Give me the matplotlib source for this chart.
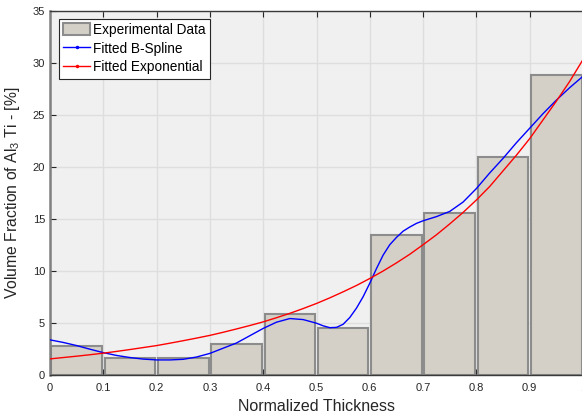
import matplotlib
matplotlib.use("Agg")
import matplotlib.pyplot as plt
from matplotlib.lines import Line2D
from matplotlib.patches import Patch

# ---- data ----
bar_centers = [0.05, 0.15, 0.25, 0.35, 0.45, 0.55, 0.65, 0.75, 0.85, 0.95]
bar_values = [2.75, 1.6, 1.6, 3.0, 5.8, 4.5, 13.45, 15.55, 20.9, 28.8]

spline_x = [0.0, 0.025, 0.05, 0.075, 0.1, 0.125, 0.15, 0.175, 0.2, 0.225,
            0.25, 0.275, 0.3, 0.325, 0.35, 0.375, 0.4, 0.425, 0.45, 0.475,
            0.5, 0.5125, 0.525, 0.5375, 0.55, 0.5625, 0.575, 0.5875, 0.6, 0.6125,
            0.625, 0.6375, 0.65, 0.6625, 0.675, 0.6875, 0.7, 0.725,
            0.75, 0.775, 0.8, 0.825, 0.85, 0.875, 0.9, 0.925, 0.95, 0.975, 1.0]
spline_y = [3.35, 3.1, 2.8, 2.45, 2.12, 1.85, 1.65, 1.5, 1.42, 1.42,
            1.48, 1.7, 2.05, 2.55, 3.05, 3.75, 4.45, 5.05, 5.4, 5.3,
            4.95, 4.7, 4.52, 4.55, 4.85, 5.5, 6.4, 7.5, 8.8, 10.2,
            11.5, 12.5, 13.2, 13.8, 14.2, 14.55, 14.8, 15.2,
            15.7, 16.6, 17.9, 19.4, 20.8, 22.3, 23.7, 25.1, 26.4, 27.6, 28.7]

expo_x = [0.0, 0.025, 0.05, 0.075, 0.1, 0.125, 0.15, 0.175, 0.2, 0.225,
          0.25, 0.275, 0.3, 0.325, 0.35, 0.375, 0.4, 0.425, 0.45, 0.475,
          0.5, 0.525, 0.55, 0.575, 0.6, 0.625, 0.65, 0.675, 0.7, 0.725,
          0.75, 0.775, 0.8, 0.825, 0.85, 0.875, 0.9, 0.925, 0.95, 0.975, 1.0]
expo_y = [1.52, 1.65, 1.78, 1.92, 2.07, 2.24, 2.42, 2.61, 2.80, 3.03,
          3.27, 3.52, 3.78, 4.08, 4.40, 4.73, 5.08, 5.48, 5.90, 6.36,
          6.85, 7.39, 7.97, 8.58, 9.25, 9.97, 10.75, 11.58, 12.5, 13.45,
          14.5, 15.6, 16.8, 18.1, 19.6, 21.1, 22.7, 24.5, 26.3, 28.2, 30.3]

x_ticks = [0, 0.1, 0.2, 0.3, 0.4, 0.5, 0.6, 0.7, 0.8, 0.9, 1.0]
x_tick_labels = ["0", "0.1", "0.2", "0.3", "0.4", "0.5", "0.6", "0.7", "0.8", "0.9", "1"]
y_ticks = [0, 5, 10, 15, 20, 25, 30, 35]

plt.rcParams['font.family'] = ['Liberation Sans', 'DejaVu Sans']
plt.rcParams['mathtext.fontset'] = 'custom'
plt.rcParams['mathtext.rm'] = 'Liberation Sans'
plt.rcParams['mathtext.it'] = 'Liberation Sans:italic'

fig = plt.figure(figsize=(5.82, 4.18), dpi=100)
ax = fig.add_axes([50/582, 43.3/418, 533/582, 364/418])
ax.set_facecolor('#f0f0f0')

ax.bar(bar_centers, bar_values, width=0.095, color='#d4d0c8',
       edgecolor='#8c8c8c', linewidth=1.5, zorder=2)
ax.plot(spline_x, spline_y, color='#0000ff', lw=1.0, zorder=3)
ax.plot(expo_x, expo_y, color='#ff0000', lw=1.0, zorder=3)

ax.set_xlim(0, 1)
ax.set_ylim(0, 35)
ax.set_xticks(x_ticks)
ax.set_xticklabels(x_tick_labels)
ax.set_yticks(y_ticks)
ax.grid(True, color='#dedede', lw=1.0, zorder=0)
ax.set_axisbelow(True)

for s in ['left', 'bottom', 'top']:
    ax.spines[s].set_color('#3a3a3a')
    ax.spines[s].set_linewidth(1.0)
ax.spines['left'].set_color('#808080')
ax.spines['left'].set_linewidth(1.8)
ax.spines['right'].set_visible(False)

ax.tick_params(direction='in', length=4, width=0.8, colors='#262626',
               labelsize=8, top=True, right=False)
ax.tick_params(axis='x', pad=6)

ax.set_xlabel('Normalized Thickness', fontsize=11.5, color='#262626', labelpad=4)
ax.set_ylabel(r'Volume Fraction of Al$_3$ Ti - [%]', fontsize=11.3, color='#262626', labelpad=8)

handles = [
    Patch(facecolor='#d4d0c8', edgecolor='#8c8c8c', linewidth=1.5),
    Line2D([], [], color='#0000ff', lw=1.0, marker='.', markersize=3),
    Line2D([], [], color='#ff0000', lw=1.0, marker='.', markersize=3),
]
labels = ['Experimental Data', 'Fitted B-Spline', 'Fitted Exponential']
leg = ax.legend(handles, labels, loc='upper left', bbox_to_anchor=(0.012, 0.985),
                fontsize=9.8, numpoints=1,
                frameon=True, fancybox=False, edgecolor='#262626', facecolor='white',
                framealpha=1.0, borderpad=0.3, labelspacing=0.35, handlelength=2.0,
                handleheight=1.0, handletextpad=0.2, borderaxespad=0.2)
leg.get_frame().set_linewidth(0.8)

fig.savefig('out.png', dpi=100)
